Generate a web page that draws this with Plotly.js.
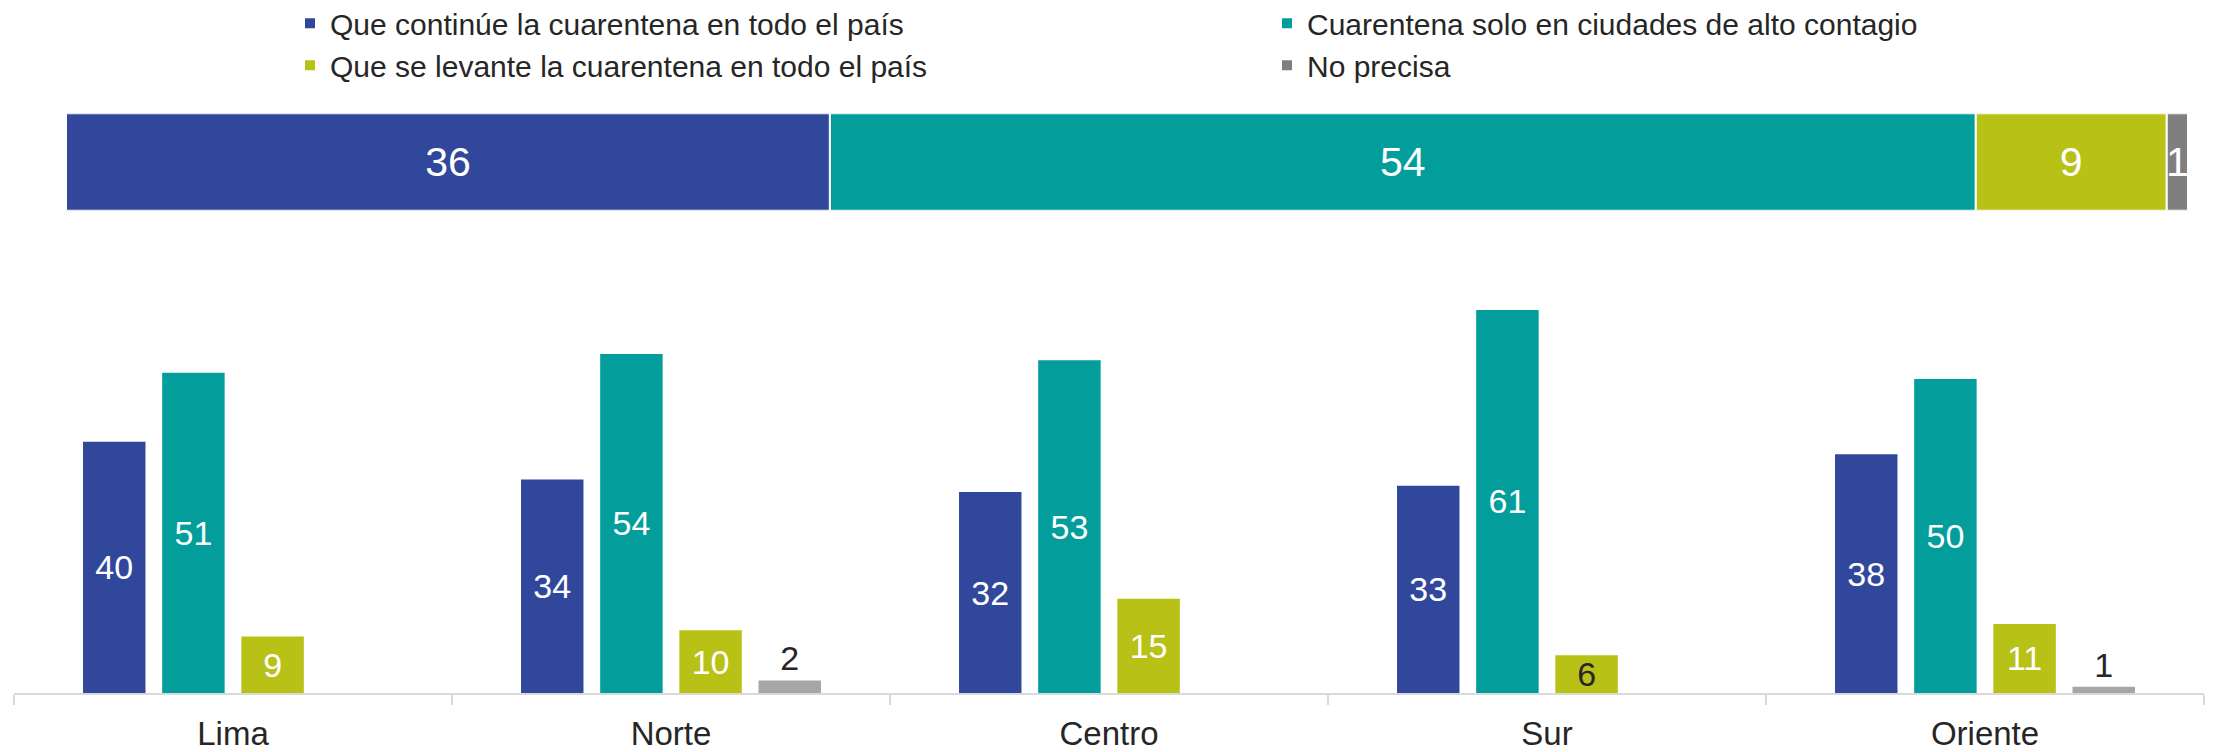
<!DOCTYPE html>
<html>
<head>
<meta charset="utf-8">
<script src="https://cdn.plot.ly/plotly-3.0.1.min.js"></script>
<style>
  html, body { margin: 0; padding: 0; background: #ffffff; }
  #chart { width: 2214px; height: 752px; }
</style>
</head>
<body>
<div id="chart"></div>
<script>
// ---- data ----
const seriesNames = [
  'Que continúe la cuarentena en todo el país',
  'Cuarentena solo en ciudades de alto contagio',
  'Que se levante la cuarentena en todo el país',
  'No precisa'
];
const nationalValues = [36, 54, 9, 1];
const categories = ['Lima', 'Norte', 'Centro', 'Sur', 'Oriente'];
const continueValues = [40, 34, 32, 33, 38];
const citiesOnlyValues = [51, 54, 53, 61, 50];
const liftValues = [9, 10, 15, 6, 11];
const notSpecifiedValues = [null, 2, null, null, 1];

// ---- styles ----
const colors = ['#31479C', '#039E9B', '#B8C116', '#7F7F7F'];
const groupGray = '#A6A6A6';
const darkText = '#262626';
const FONT = '"Liberation Sans", Arial, Helvetica, sans-serif';
// legend column for each series (two columns, two rows)
const legendOf = ['legend', 'legend2', 'legend', 'legend2'];

const traces = [];

// stacked national bar (top)
let running = 0;
nationalValues.forEach((v, i) => {
  traces.push({
    type: 'bar',
    orientation: 'h',
    x: [v],
    y: [0],
    base: [running],
    width: [1],
    offset: [-0.5],
    xaxis: 'x2',
    yaxis: 'y2',
    name: seriesNames[i],
    legend: legendOf[i],
    legendgroup: 'g' + i,
    showlegend: true,
    marker: { color: colors[i], line: { color: '#ffffff', width: 2 } },
    text: [String(v)],
    textposition: 'inside',
    insidetextanchor: 'middle',
    constraintext: 'none',
    textangle: 0,
    textfont: { family: FONT, size: 41, color: '#ffffff' },
    cliponaxis: false,
    hoverinfo: 'skip'
  });
  running += v;
});

// grouped regional bars
const groupSeries = [continueValues, citiesOnlyValues, liftValues, notSpecifiedValues];
groupSeries.forEach((vals, i) => {
  const isGray = i === 3;
  let textColors;
  if (isGray) {
    textColors = vals.map(() => darkText);
  } else if (i === 2) {
    textColors = vals.map(v => (v < 8 ? darkText : '#ffffff'));
  } else {
    textColors = vals.map(() => '#ffffff');
  }
  traces.push({
    type: 'bar',
    x: categories,
    y: vals,
    xaxis: 'x',
    yaxis: 'y',
    name: seriesNames[i],
    legend: legendOf[i],
    legendgroup: 'g' + i,
    showlegend: false,
    marker: { color: isGray ? groupGray : colors[i] },
    text: vals.map(v => (v === null ? '' : String(v))),
    textposition: isGray ? 'outside' : 'inside',
    insidetextanchor: 'middle',
    constraintext: 'none',
    textangle: 0,
    textfont: { family: FONT, size: 34, color: textColors },
    cliponaxis: false,
    hoverinfo: 'skip'
  });
});

const legendBase = {
  orientation: 'v',
  xanchor: 'left',
  yanchor: 'top',
  y: 1.004,
  font: { family: FONT, size: 30, color: darkText },
  traceorder: 'normal',
  itemclick: false,
  itemdoubleclick: false,
  bgcolor: 'rgba(0,0,0,0)',
  borderwidth: 0
};

const layout = {
  width: 2214,
  height: 752,
  margin: { l: 14, r: 10, t: 0, b: 59, pad: 0, autoexpand: false },
  paper_bgcolor: '#ffffff',
  plot_bgcolor: '#ffffff',
  font: { family: FONT, color: darkText },
  barmode: 'group',
  bargap: 0.277,
  bargroupgap: 0.211,
  showlegend: true,
  legend: Object.assign({}, legendBase, { x: (290 - 14) / 2190 }),
  legend2: Object.assign({}, legendBase, { x: (1267 - 14) / 2190 }),
  xaxis: {
    type: 'category',
    domain: [0, 1],
    range: [-0.5, 4.5],
    tickson: 'boundaries',
    ticks: 'outside',
    ticklen: 10,
    tickwidth: 2,
    tickcolor: '#D9D9D9',
    ticklabelstandoff: 10,
    showline: true,
    linecolor: '#D9D9D9',
    linewidth: 2,
    showgrid: false,
    zeroline: false,
    tickfont: { family: FONT, size: 33, color: darkText },
    automargin: false,
    fixedrange: true
  },
  yaxis: {
    domain: [0, 0.5981],
    range: [0, 66],
    visible: false,
    showgrid: false,
    zeroline: false,
    fixedrange: true
  },
  xaxis2: {
    anchor: 'y2',
    domain: [0.02374, 0.99269],
    range: [0, 100],
    visible: false,
    showgrid: false,
    zeroline: false,
    fixedrange: true
  },
  yaxis2: {
    anchor: 'x2',
    domain: [0.696, 0.8365],
    range: [-0.5, 0.5],
    visible: false,
    showgrid: false,
    zeroline: false,
    fixedrange: true
  }
};

Plotly.newPlot('chart', traces, layout, { displayModeBar: false, staticPlot: true });
</script>
</body>
</html>
